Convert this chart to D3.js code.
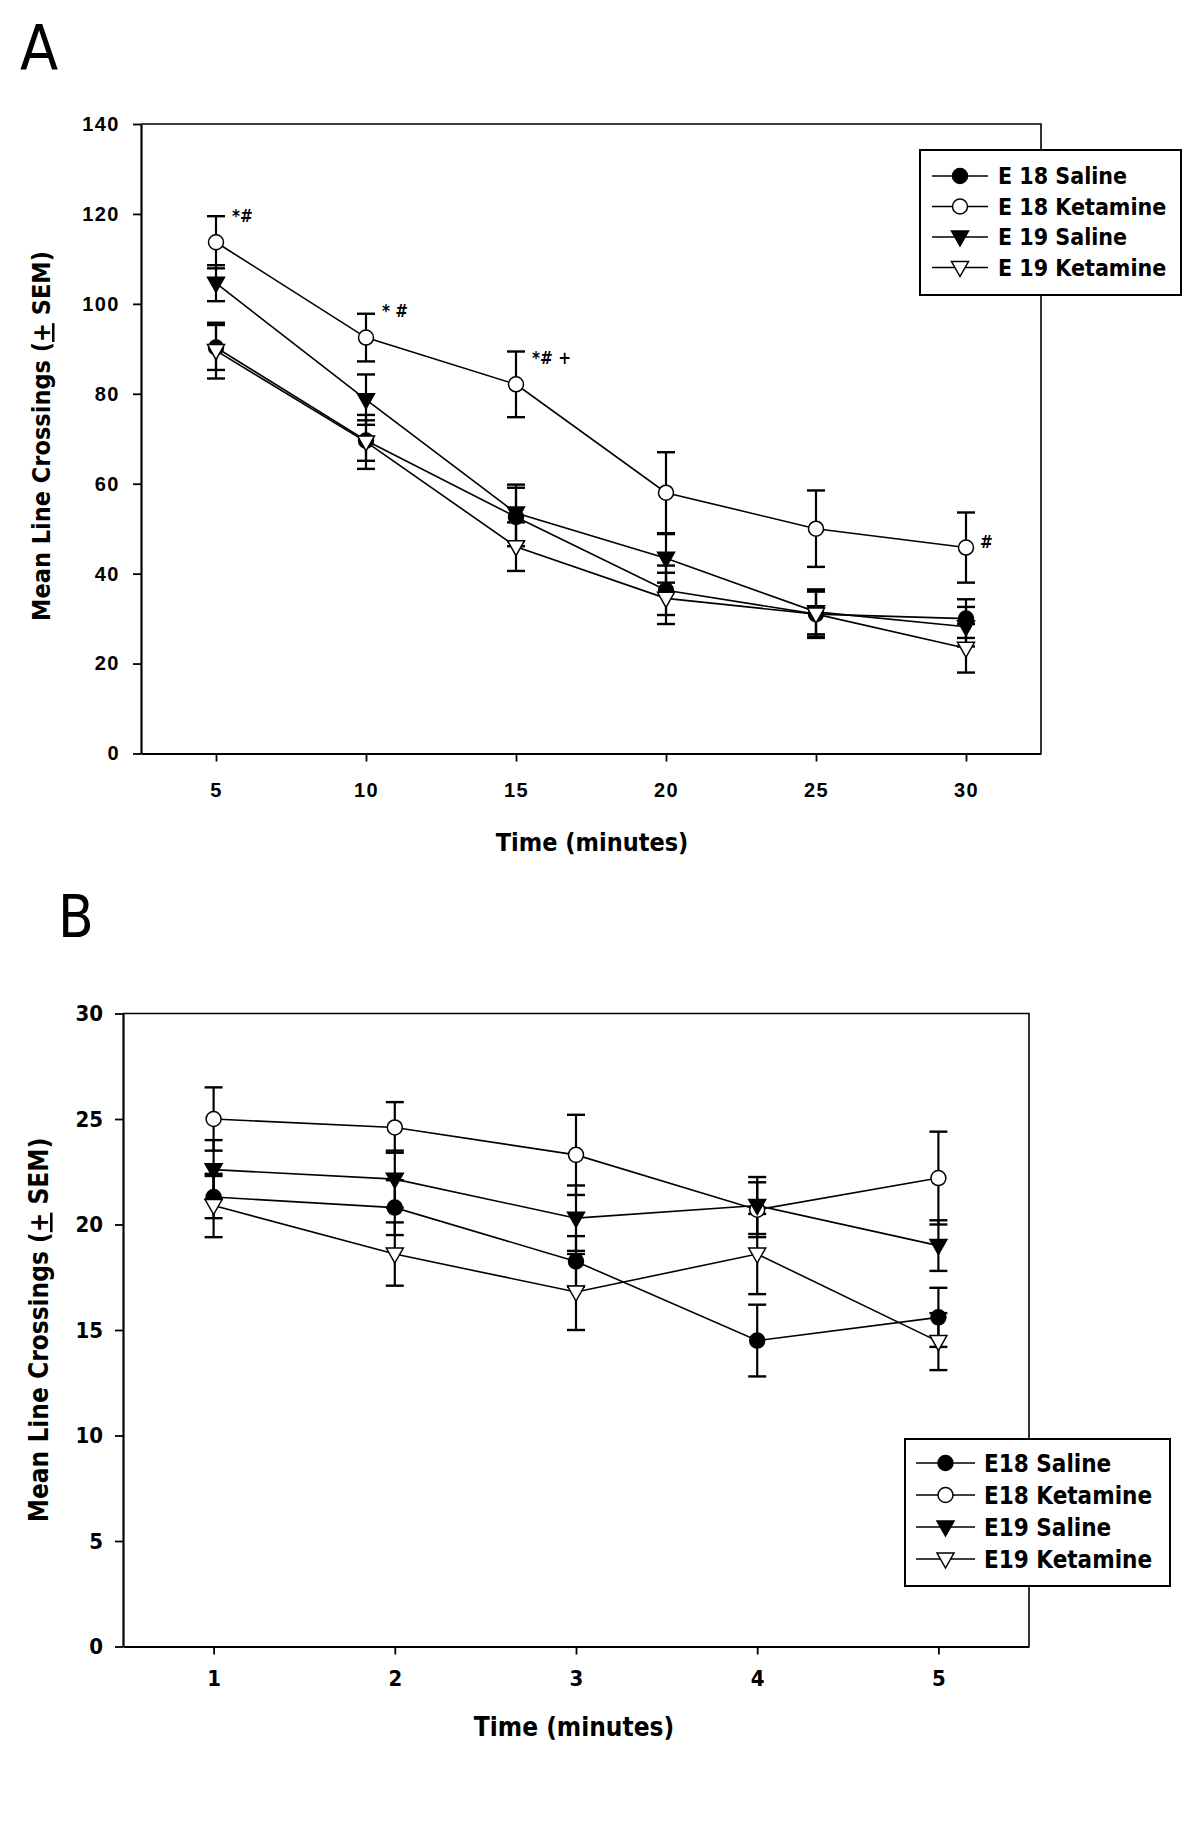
<!DOCTYPE html>
<html><head><meta charset="utf-8">
<script src="https://cdn.jsdelivr.net/npm/d3@7"></script>
<style>
body{margin:0;background:#fff;}
text{font-family:"DejaVu Sans Condensed","Liberation Sans",Arial,sans-serif;fill:#000;}
</style></head><body>
<svg id="c" width="1200" height="1838"></svg>
<script>
// ---------- data ----------
const seriesNames = ["E18 Saline","E18 Ketamine","E19 Saline","E19 Ketamine"];
const legendA = ["E 18 Saline","E 18 Ketamine","E 19 Saline","E 19 Ketamine"];
const legendB = ["E18 Saline","E18 Ketamine","E19 Saline","E19 Ketamine"];
const markerTypes = ["filledCircle","openCircle","filledTri","openTri"];

const timesA = [5,10,15,20,25,30];
const a_E18Sal = [90.3, 69.6, 52.6, 36.3, 31.0, 30.0];
const a_E18Sal_sem = [5.0, 4.5, 6.5, 5.5, 5.3, 4.3];
const a_E18Ket = [113.7, 92.5, 82.1, 58.0, 50.0, 45.8];
const a_E18Ket_sem = [5.8, 5.3, 7.3, 9.0, 8.5, 7.8];
const a_E19Sal = [104.6, 78.7, 53.5, 43.4, 31.5, 28.2];
const a_E19Sal_sem = [4.0, 5.6, 6.3, 5.4, 5.0, 4.4];
const a_E19Ket = [89.6, 69.3, 46.0, 34.5, 31.0, 23.4];
const a_E19Ket_sem = [6.2, 6.0, 5.4, 5.7, 5.0, 5.4];
const ticksAx = [5,10,15,20,25,30];
const ticksAy = [0,20,40,60,80,100,120,140];
const annotA = [{t:5, v:113.7, s:"*#"},{t:10, v:92.5, s:"* #"},{t:15, v:82.1, s:"*# +"},{t:30, v:45.8, s:"#"}];

const timesB = [1,2,3,4,5];
const b_E18Sal = [21.3, 20.8, 18.25, 14.5, 15.6];
const b_E18Sal_sem = [1.0, 1.3, 1.2, 1.7, 1.4];
const b_E18Ket = [25.0, 24.6, 23.3, 20.7, 22.2];
const b_E18Ket_sem = [1.5, 1.2, 1.9, 1.3, 2.2];
const b_E19Sal = [22.6, 22.15, 20.3, 20.9, 19.0];
const b_E19Sal_sem = [1.4, 1.35, 1.55, 1.35, 1.2];
const b_E19Ket = [20.9, 18.6, 16.8, 18.6, 14.45];
const b_E19Ket_sem = [1.5, 1.5, 1.8, 1.9, 1.35];
const ticksBx = [1,2,3,4,5];
const ticksBy = [0,5,10,15,20,25,30];

const svg = d3.select("#c");

function marker(g, type, x, y){
  if(type==="filledCircle"||type==="openCircle"){
    g.append("circle").attr("cx",x).attr("cy",y).attr("r",7.5)
      .attr("fill", type==="filledCircle"?"#000":"#fff").attr("stroke","#000").attr("stroke-width",1.5);
  } else {
    const w=8.5, h=15;
    g.append("path").attr("d",`M${x-w},${y-h*0.4}L${x+w},${y-h*0.4}L${x},${y+h*0.6}Z`)
      .attr("fill", type==="filledTri"?"#000":"#fff").attr("stroke","#000").attr("stroke-width",1.5);
  }
}

function panel(cfg){
  const g = svg.append("g");
  const x = d3.scaleLinear().domain(cfg.xd).range(cfg.xr);
  const y = d3.scaleLinear().domain(cfg.yd).range(cfg.yr);
  g.append("path").attr("d",`M${cfg.xr[0]},${cfg.yr[1]}H${cfg.xr[1]}V${cfg.yr[0]}`)
    .attr("fill","none").attr("stroke","#000").attr("stroke-width",1.6);
  const xa = g.append("g").attr("transform",`translate(0,${cfg.yr[0]})`)
    .call(d3.axisBottom(x).tickValues(cfg.xt).tickFormat(d3.format("d")).tickSize(8).tickSizeOuter(0).tickPadding(cfg.xPad));
  const ya = g.append("g").attr("transform",`translate(${cfg.xr[0]},0)`)
    .call(d3.axisLeft(y).tickValues(cfg.yt).tickFormat(d3.format("d")).tickSize(8).tickSizeOuter(0).tickPadding(cfg.yPad));
  [xa,ya].forEach(a=>{
    a.select(".domain").attr("stroke-width",2.2);
    a.selectAll(".tick line").attr("stroke-width",1.8);
    a.selectAll("text").attr("font-size",cfg.tickFs).attr("font-weight","bold")
      .style("font-family",cfg.tickFont).style("letter-spacing",cfg.tickLs+"px");
  });
  const line = d3.line().x(d=>x(d.t)).y(d=>y(d.v));
  cfg.series.forEach(s=>{
    const pts = cfg.times.map((t,i)=>({t, v:s.v[i]}));
    g.append("path").datum(pts).attr("d",line).attr("fill","none").attr("stroke","#000").attr("stroke-width",1.6);
  });
  cfg.series.forEach(s=>{
    cfg.times.forEach((t,i)=>{
      const cx=x(t), hi=y(s.v[i]+s.e[i]), lo=y(s.v[i]-s.e[i]);
      g.append("line").attr("x1",cx).attr("x2",cx).attr("y1",hi).attr("y2",lo).attr("stroke","#000").attr("stroke-width",2.2);
      [hi,lo].forEach(yy=>g.append("line").attr("x1",cx-9).attr("x2",cx+9).attr("y1",yy).attr("y2",yy).attr("stroke","#000").attr("stroke-width",2.4));
    });
  });
  cfg.series.forEach((s,si)=>{
    cfg.times.forEach((t,i)=>marker(g, markerTypes[si], x(t), y(s.v[i])));
  });
  g.append("text").attr("x",cfg.xtitle[0]).attr("y",cfg.xtitle[1]).attr("text-anchor","middle")
    .attr("font-size",cfg.titleFs).attr("font-weight","bold").text("Time (minutes)");
  const yt = g.append("text").attr("transform",`translate(${cfg.ytitle[0]},${cfg.ytitle[1]}) rotate(-90)`)
    .attr("text-anchor","middle").attr("font-size",cfg.titleFs).attr("font-weight","bold");
  yt.append("tspan").text("Mean Line Crossings (");
  yt.append("tspan").attr("text-decoration","underline").text("+");
  yt.append("tspan").text(" SEM)");
  const L = cfg.legend;
  g.append("rect").attr("x",L.x).attr("y",L.y).attr("width",L.w).attr("height",L.h)
    .attr("fill","#fff").attr("stroke","#000").attr("stroke-width",2);
  cfg.legendNames.forEach((n,i)=>{
    const yy = L.y + L.r0 + i*L.dy;
    g.append("line").attr("x1",L.x+L.lx0).attr("x2",L.x+L.lx1).attr("y1",yy).attr("y2",yy).attr("stroke","#000").attr("stroke-width",1.6);
    marker(g, markerTypes[i], L.x+(L.lx0+L.lx1)/2, yy);
    g.append("text").attr("x",L.x+L.tx).attr("y",yy).attr("dy","0.36em")
      .attr("font-size",L.fs).attr("font-weight","bold").text(n);
  });
  return {g,x,y};
}

const A = panel({
  xd:[2.5,32.5], xr:[141,1041], yd:[0,140], yr:[753.5,124],
  xt:ticksAx, yt:ticksAy, times:timesA, tickFs:20, tickLs:1.5, xPad:21, yPad:13,
  tickFont:"'Liberation Sans',Arial,sans-serif", titleFs:25,
  series:[{v:a_E18Sal,e:a_E18Sal_sem},{v:a_E18Ket,e:a_E18Ket_sem},{v:a_E19Sal,e:a_E19Sal_sem},{v:a_E19Ket,e:a_E19Ket_sem}],
  xtitle:[592,851], ytitle:[50,436],
  legend:{x:920,y:150,w:261,h:145,r0:26,dy:30.5,lx0:12,lx1:68,tx:78,fs:23},
  legendNames:legendA
});
annotA.forEach(a=>{
  A.g.append("text").attr("x",A.x(a.t)+ (a.t===30?14:16)).attr("y",A.y(a.v+ (a.t===30?0:4.5)))
   .attr("font-size",17).attr("font-weight","bold").text(a.s);
});

const B = panel({
  xd:[0.5,5.5], xr:[123,1029], yd:[0,30], yr:[1646.5,1013.5],
  xt:ticksBx, yt:ticksBy, times:timesB, tickFs:22, tickLs:0, xPad:16, yPad:12,
  tickFont:"'DejaVu Sans Condensed',Arial,sans-serif", titleFs:26,
  series:[{v:b_E18Sal,e:b_E18Sal_sem},{v:b_E18Ket,e:b_E18Ket_sem},{v:b_E19Sal,e:b_E19Sal_sem},{v:b_E19Ket,e:b_E19Ket_sem}],
  xtitle:[574,1736], ytitle:[48,1330],
  legend:{x:905,y:1439,w:265,h:147,r0:24,dy:32,lx0:11,lx1:70,tx:79,fs:24},
  legendNames:legendB
});

// panel letters
svg.append("text").attr("x",20).attr("y",70).attr("font-size",62)
  .style("font-family","'DejaVu Sans Condensed',sans-serif").text("A");
svg.append("text").attr("x",58).attr("y",937).attr("font-size",58)
  .style("font-family","'DejaVu Sans Condensed',sans-serif").text("B");
</script>
</body></html>
